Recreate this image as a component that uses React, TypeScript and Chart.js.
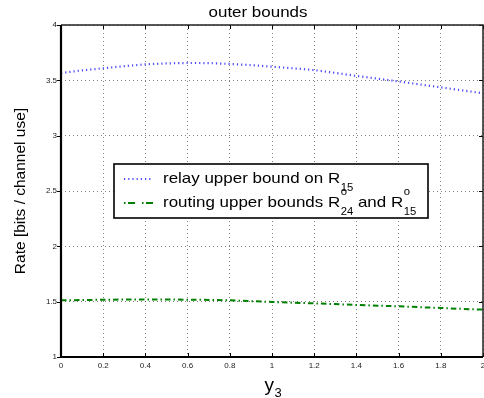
import React, { useEffect, useRef } from "react";
import { Chart, registerables } from "chart.js";

Chart.register(...registerables);

const xValues = [0, 0.1, 0.2, 0.3, 0.4, 0.5, 0.6, 0.7, 0.8, 0.9, 1.0, 1.1, 1.2, 1.3, 1.4, 1.5, 1.6, 1.7, 1.8, 1.9, 2.0];
const relayBound = [3.566, 3.59, 3.609, 3.628, 3.645, 3.653, 3.657, 3.656, 3.648, 3.638, 3.623, 3.609, 3.593, 3.567, 3.54, 3.515, 3.49, 3.463, 3.437, 3.41, 3.383];
const routingBound = [1.512, 1.515, 1.517, 1.519, 1.52, 1.519, 1.518, 1.516, 1.512, 1.505, 1.497, 1.491, 1.485, 1.478, 1.47, 1.464, 1.458, 1.45, 1.443, 1.435, 1.428];

const titleText = "outer bounds";
const yLabelText = "Rate [bits / channel use]";
const xLabelMain = "y";
const xLabelSub = "3";

const FONT = "'Liberation Sans', Arial, Helvetica, sans-serif";
const SX = 1.13;

function stretched(ctx: CanvasRenderingContext2D, text: string, x: number, y: number, size: number, sx = SX) {
  ctx.save();
  ctx.font = `${size}px ${FONT}`;
  ctx.textAlign = "left";
  ctx.textBaseline = "alphabetic";
  ctx.translate(x, y);
  ctx.scale(sx, 1);
  ctx.fillText(text, 0, 0);
  const w = ctx.measureText(text).width * sx;
  ctx.restore();
  return w;
}

function measure(ctx: CanvasRenderingContext2D, text: string, size: number, sx = SX) {
  ctx.save();
  ctx.font = `${size}px ${FONT}`;
  const w = ctx.measureText(text).width * sx;
  ctx.restore();
  return w;
}

const fmt = (v: any) => String(Number(Number(v).toFixed(2)));

const decorPlugin = {
  id: "decor",
  afterDraw(chart: any) {
    const ctx: CanvasRenderingContext2D = chart.ctx;
    const { left, right, top, bottom } = chart.chartArea;
    const xs = chart.scales.x;
    const ys = chart.scales.y;
    ctx.save();
    ctx.strokeStyle = "#000";
    ctx.lineWidth = 1;
    ctx.setLineDash([]);
    xs.ticks.forEach((t: any) => {
      const px = Math.round(xs.getPixelForValue(t.value)) + 0.5;
      ctx.beginPath();
      ctx.moveTo(px, top);
      ctx.lineTo(px, top + 4);
      ctx.moveTo(px, bottom);
      ctx.lineTo(px, bottom - 4);
      ctx.stroke();
    });
    ys.ticks.forEach((t: any) => {
      const py = Math.round(ys.getPixelForValue(t.value)) + 0.5;
      ctx.beginPath();
      ctx.moveTo(left - 4, py);
      ctx.lineTo(left, py);
      ctx.moveTo(right, py);
      ctx.lineTo(right - 4, py);
      ctx.stroke();
    });
    ctx.strokeStyle = "#222";
    ctx.lineWidth = 1.5;
    ctx.beginPath();
    ctx.moveTo(left, top);
    ctx.lineTo(right, top);
    ctx.lineTo(right, bottom);
    ctx.stroke();
    ctx.strokeStyle = "#000";
    ctx.lineWidth = 2.2;
    ctx.beginPath();
    ctx.moveTo(left, top);
    ctx.lineTo(left, bottom);
    ctx.lineTo(right, bottom);
    ctx.stroke();

    ctx.fillStyle = "#000";
    const tw = measure(ctx, titleText, 15);
    stretched(ctx, titleText, 258 - tw / 2, 17.3, 15);

    ctx.save();
    ctx.font = `15.5px ${FONT}`;
    ctx.textAlign = "center";
    ctx.textBaseline = "alphabetic";
    ctx.translate(25, (top + bottom) / 2);
    ctx.rotate(-Math.PI / 2);
    ctx.fillText(yLabelText, 0, 0);
    ctx.restore();

    const yw = stretched(ctx, xLabelMain, 264.5, 390.5, 19, 1);
    stretched(ctx, xLabelSub, 264.5 + yw + 0.5, 397, 13, 1);

    const bx = 114, by = 164, bw = 314, bh = 54;
    ctx.fillStyle = "#fff";
    ctx.fillRect(bx, by, bw, bh);
    ctx.strokeStyle = "#000";
    ctx.lineWidth = 1.6;
    ctx.setLineDash([]);
    ctx.strokeRect(bx, by, bw, bh);

    ctx.strokeStyle = "#4a4aff";
    ctx.lineWidth = 2.2;
    ctx.setLineDash([1.2, 3]);
    ctx.beginPath();
    ctx.moveTo(124, 179);
    ctx.lineTo(153, 179);
    ctx.stroke();
    ctx.strokeStyle = "#008000";
    ctx.lineWidth = 2;
    ctx.setLineDash([1.5, 2.5, 7, 7]);
    ctx.beginPath();
    ctx.moveTo(124, 203);
    ctx.lineTo(153, 203);
    ctx.stroke();
    ctx.setLineDash([]);

    ctx.fillStyle = "#000";
    let x1 = 163;
    x1 += stretched(ctx, "relay upper bound on R", x1, 183.3, 15);
    stretched(ctx, "15", x1 + 0.5, 191, 10);

    let x2 = 163;
    x2 += stretched(ctx, "routing upper bounds R", x2, 206.7, 15);
    stretched(ctx, "o", x2 + 0.5, 195, 10);
    const s24 = stretched(ctx, "24", x2 + 0.5, 214.5, 10);
    x2 += 0.5 + s24;
    x2 += stretched(ctx, " and R", x2, 206.7, 15);
    stretched(ctx, "o", x2 + 0.5, 195, 10);
    stretched(ctx, "15", x2 + 0.5, 214.5, 10);

    ctx.restore();
  },
};

export default function App() {
  const canvasRef = useRef<HTMLCanvasElement | null>(null);

  useEffect(() => {
    document.body.style.margin = "0";
    const canvas = canvasRef.current;
    if (!canvas) return;
    const gridColor = "rgba(0,0,0,0.5)";
    const chart = new Chart(canvas, {
      type: "line",
      data: {
        datasets: [
          {
            label: "relay upper bound on R15",
            data: xValues.map((x, i) => ({ x, y: relayBound[i] })),
            borderColor: "#4a4aff",
            borderWidth: 2.2,
            borderDash: [1.2, 3],
            pointRadius: 0,
            fill: false,
            tension: 0,
          },
          {
            label: "routing upper bounds R24 and R15",
            data: xValues.map((x, i) => ({ x, y: routingBound[i] })),
            borderColor: "#008000",
            borderWidth: 2,
            borderDash: [5.5, 3, 1.5, 3],
            pointRadius: 0,
            fill: false,
            tension: 0,
          },
        ],
      },
      options: {
        responsive: false,
        maintainAspectRatio: false,
        animation: false,
        layout: { padding: { top: 25, right: 1, left: 0, bottom: 0 } },
        plugins: {
          legend: { display: false },
          tooltip: { enabled: false },
          title: { display: false },
        },
        scales: {
          x: {
            type: "linear",
            min: 0,
            max: 2,
            ticks: {
              stepSize: 0.2,
              font: { size: 8, family: FONT },
              color: "#222",
              padding: 4,
              maxRotation: 0,
              autoSkip: false,
              callback: fmt,
            },
            grid: { color: gridColor, lineWidth: 1, drawTicks: false },
            border: { display: false, dash: [1, 3] },
            afterFit: (s: any) => {
              s.height = 41;
              s.paddingLeft = 0;
              s.paddingRight = 0;
            },
          },
          y: {
            type: "linear",
            min: 1,
            max: 4,
            ticks: {
              stepSize: 0.5,
              font: { size: 8, family: FONT },
              color: "#222",
              padding: 4,
              autoSkip: false,
              callback: fmt,
            },
            grid: { color: gridColor, lineWidth: 1, drawTicks: false },
            border: { display: false, dash: [1, 3] },
            afterFit: (s: any) => {
              s.width = 61;
              s.paddingTop = 0;
              s.paddingBottom = 0;
            },
          },
        },
      },
      plugins: [decorPlugin],
    });
    return () => chart.destroy();
  }, []);

  return (
    <div style={{ width: 484, height: 398, background: "#fff" }}>
      <canvas ref={canvasRef} width={484} height={398} />
    </div>
  );
}
